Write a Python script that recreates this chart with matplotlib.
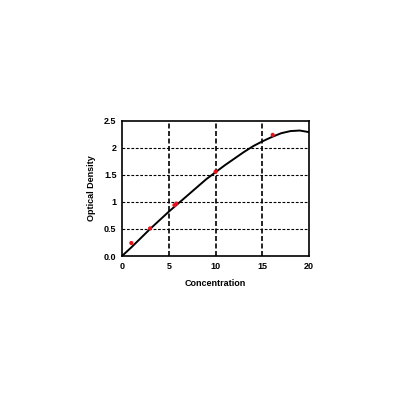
import matplotlib
matplotlib.use("Agg")
import matplotlib.pyplot as plt

# standard points (concentration, optical density)
std_conc = [1.0, 3.0, 5.6, 5.8, 10.0, 16.1]
std_od = [0.24, 0.51, 0.94, 0.97, 1.56, 2.24]

# fitted curve
fit_conc = [0, 1, 2, 3, 4, 5, 6, 7, 8, 9, 10, 11, 12, 13, 14, 15, 16, 17, 18, 19, 20]
fit_od = [0.0, 0.16, 0.33, 0.50, 0.66, 0.82, 0.97, 1.12, 1.27, 1.42, 1.55,
          1.68, 1.80, 1.92, 2.03, 2.12, 2.20, 2.27, 2.31, 2.32, 2.29]

x_ticks = [0, 5, 10, 15, 20]
y_ticks = [0.0, 0.5, 1.0, 1.5, 2.0, 2.5]
y_tick_labels = ["0.0", "0.5", "1", "1.5", "2", "2.5"]

plt.rcParams['font.family'] = ['Liberation Sans', 'DejaVu Sans']

fig = plt.figure(figsize=(4, 4), dpi=100)
ax = fig.add_axes([0.305, 0.36, 0.468, 0.338])

ax.plot(fit_conc, fit_od, color='black', lw=1.4, zorder=3)
ax.scatter(std_conc, std_od, color='#e8141c', s=9, zorder=4, edgecolor='none')

ax.set_xlim(0, 20)
ax.set_ylim(0, 2.5)
ax.set_xticks(x_ticks)
ax.set_yticks(y_ticks)
ax.set_yticklabels(y_tick_labels)

# dashed grid: vertical heavier than horizontal
for xv in x_ticks[1:-1]:
    ax.axvline(xv, color='black', lw=1.2, ls=(0, (3, 1.5)), zorder=1)
for yv in y_ticks[1:-1]:
    ax.axhline(yv, color='black', lw=0.8, ls=(0, (2.5, 1.5)), zorder=1)

for s in ax.spines.values():
    s.set_linewidth(1.2)
ax.tick_params(length=0, pad=4, labelsize=6.5)
for lbl in ax.get_xticklabels() + ax.get_yticklabels():
    lbl.set_fontweight('bold')

ax.set_xlabel("Concentration", fontsize=6.5, fontweight='bold', labelpad=6)
ax.set_ylabel("Optical Density", fontsize=6.5, fontweight='bold', labelpad=6)

fig.savefig("out.png", dpi=100)
